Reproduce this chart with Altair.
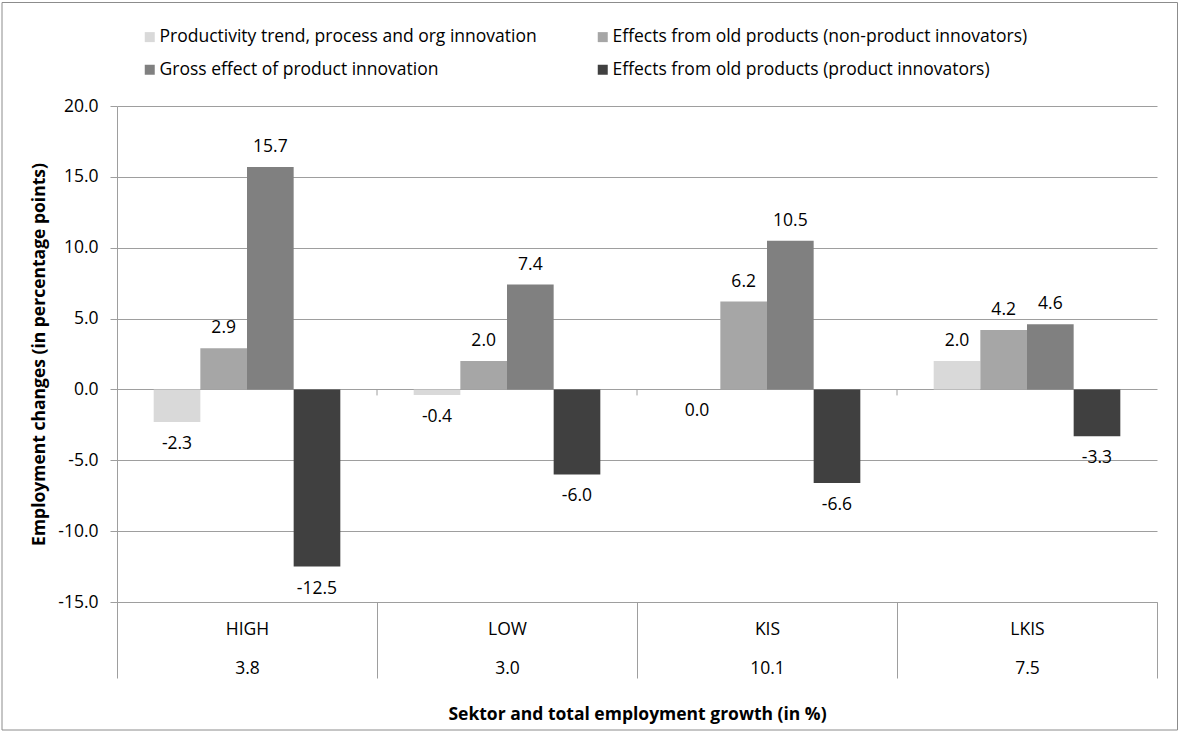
import altair as alt
import pandas as pd

# Sectors and their total employment growth (in %)
sectors = ["HIGH", "LOW", "KIS", "LKIS"]
growth = [3.8, 3.0, 10.1, 7.5]

# Decomposition components (percentage points)
series_names = [
    "Productivity trend, process and org innovation",
    "Effects from old products (non-product innovators)",
    "Gross effect of product innovation",
    "Effects from old products (product innovators)",
]
productivity = [-2.3, -0.4, 0.0, 2.0]
old_non_innov = [2.9, 2.0, 6.2, 4.2]
gross_product = [15.7, 7.4, 10.5, 4.6]
old_innov = [-12.5, -6.0, -6.6, -3.3]

series_colors = ["#D9D9D9", "#A6A6A6", "#808080", "#404040"]
y_ticks = [-15, -10, -5, 0, 5, 10, 15, 20]

rows = []
for name, vals in zip(series_names, [productivity, old_non_innov, gross_product, old_innov]):
    for s, v in zip(sectors, vals):
        rows.append({"sector": s, "series": name, "value": v})
df = pd.DataFrame(rows)
bounds = pd.DataFrame({"sector": sectors[1:]})
frame = pd.DataFrame({"k": [0]})

W, H = 1040, 496
FONT = "Open Sans"
FS = 17.5
GRID = "#9E9E9E"
# one decimal, plain hyphen for negatives
FMT = "replace(format({v}, '.1f'), '\u2212', '-')"

# two-line category labels: sector name and total growth
label_expr = ""
for s, g in zip(sectors, growth):
    label_expr += f"datum.value === '{s}' ? ['{s}', '{g:.1f}'] : "
label_expr += "datum.value"

x_enc = alt.X(
    "sector:N",
    sort=sectors,
    scale=alt.Scale(paddingInner=0, paddingOuter=0),
    axis=alt.Axis(
        title="Sektor and total employment growth (in %)",
        titleFontWeight="bold",
        titleFontSize=FS,
        titlePadding=27,
        labelAngle=0,
        labelExpr=label_expr,
        labelBaseline="top",
        labelLineHeight=39,
        labelFontSize=FS,
        labelPadding=-58,
        tickBand="extent",
        tickSize=76,
        tickColor=GRID,
        domainColor=GRID,
        grid=False,
    ),
)

base = alt.Chart(df).transform_calculate(label=FMT.format(v="datum.value"))

bars = base.mark_bar().encode(
    x=x_enc,
    xOffset=alt.XOffset("series:N", sort=series_names,
                        scale=alt.Scale(paddingInner=0, paddingOuter=0.786)),
    y=alt.Y(
        "value:Q",
        scale=alt.Scale(domain=[-15, 20], nice=False),
        axis=alt.Axis(
            title="Employment changes (in percentage points)",
            titleFontWeight="bold",
            titleFontSize=FS,
            titlePadding=9,
            values=y_ticks,
            labelExpr=FMT.format(v="datum.value"),
            labelFontSize=FS,
            labelPadding=12,
            tickSize=7,
            tickColor=GRID,
            domainColor=GRID,
            gridColor=GRID,
        ),
    ),
    color=alt.Color(
        "series:N",
        sort=series_names,
        scale=alt.Scale(domain=series_names, range=series_colors),
        legend=alt.Legend(
            title=None,
            orient="none",
            legendX=24,
            legendY=-78,
            columns=2,
            direction="horizontal",
            symbolType="square",
            symbolSize=100,
            symbolStrokeWidth=0,
            labelFontSize=FS,
            labelOffset=1,
            labelLimit=600,
            columnPadding=57,
            rowPadding=14,
            padding=0,
        ),
    ),
)

text_common = dict(
    x=alt.X("sector:N", sort=sectors),
    xOffset=alt.XOffset("series:N", sort=series_names),
    y="value:Q",
    text="label:N",
)
labels_pos = base.transform_filter("datum.value > 0").mark_text(
    fontSize=FS, font=FONT, baseline="middle", dy=-20, color="#000"
).encode(**text_common)
labels_neg = base.transform_filter("datum.value <= 0").mark_text(
    fontSize=FS, font=FONT, baseline="middle", dy=22, color="#000"
).encode(**text_common)

# small category tick marks hanging below the zero line
zero_ticks = alt.Chart(bounds).mark_rule(color=GRID, y2Offset=6).encode(
    x=alt.X("sector:N", sort=sectors, bandPosition=0),
    y=alt.datum(0),
    y2=alt.datum(0),
)

# outer chart frame
frame_rect = alt.Chart(frame).mark_rect(fill=None, stroke="#8C8C8C", strokeWidth=1).encode(
    x=alt.value(-115), x2=alt.value(W + 20.5), y=alt.value(-103.5), y2=alt.value(H + 128)
)

chart = (
    alt.layer(frame_rect, bars, labels_pos, labels_neg, zero_ticks)
    .properties(width=W, height=H)
    .configure(
        font=FONT,
        autosize=alt.AutoSizeParams(type="none"),
        padding={"left": 117, "top": 106, "right": 22, "bottom": 129},
    )
    .configure_view(stroke=None)
    .configure_axis(labelColor="#000", titleColor="#000", labelFont=FONT, titleFont=FONT)
    .configure_legend(labelColor="#000", labelFont=FONT)
)

chart.save("out.html", embed_options={"renderer": "svg", "actions": False})
